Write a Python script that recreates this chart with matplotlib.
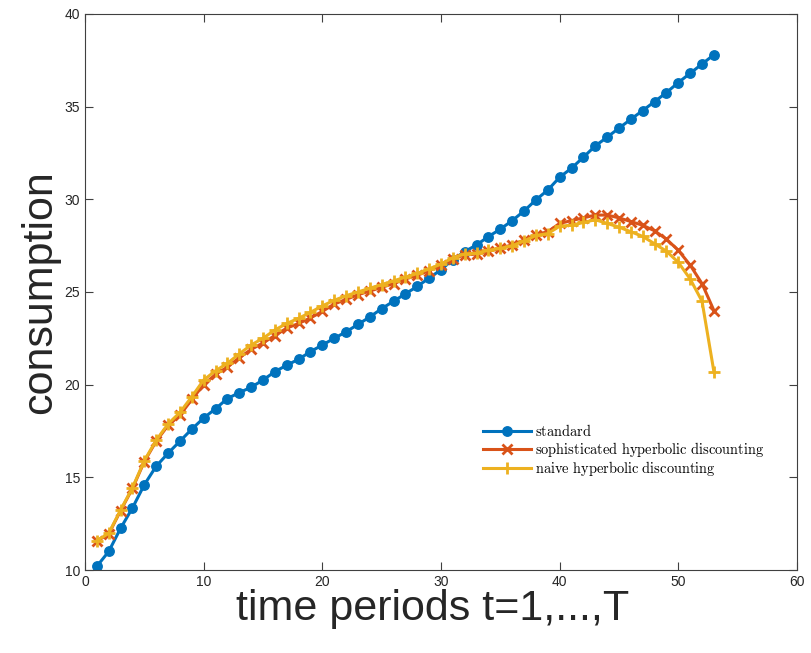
import matplotlib
matplotlib.use("Agg")
import matplotlib.pyplot as plt

# periodos e consumo de cada modelo
t = list(range(1, 54))

standard = [10.2, 11.0, 12.25, 13.35, 14.6, 15.6, 16.3, 16.95, 17.6, 18.2,
            18.7, 19.25, 19.57, 19.86, 20.25, 20.7, 21.05, 21.37, 21.78, 22.14,
            22.5, 22.85, 23.25, 23.65, 24.1, 24.5, 24.9, 25.3, 25.75, 26.2,
            26.75, 27.18, 27.54, 27.99, 28.39, 28.85, 29.37, 29.97, 30.5, 31.19,
            31.68, 32.27, 32.88, 33.35, 33.84, 34.32, 34.79, 35.27, 35.76, 36.3,
            36.8, 37.3, 37.8]

sophisticated = [11.55, 11.95, 13.2, 14.4, 15.85, 16.95, 17.8, 18.35, 19.2, 20.0,
                 20.55, 20.95, 21.45, 21.9, 22.25, 22.65, 23.05, 23.3, 23.6, 23.95,
                 24.35, 24.6, 24.85, 25.05, 25.25, 25.45, 25.7, 25.9, 26.15, 26.45,
                 26.8, 27.0, 27.05, 27.2, 27.35, 27.55, 27.8, 28.1, 28.25, 28.7,
                 28.85, 29.0, 29.15, 29.15, 29.0, 28.8, 28.6, 28.3, 27.85, 27.25,
                 26.45, 25.45, 24.0]

naive = [11.58, 11.98, 13.24, 14.44, 15.9, 17.0, 17.88, 18.5, 19.35, 20.25,
         20.75, 21.15, 21.66, 22.14, 22.5, 22.95, 23.3, 23.58, 23.9, 24.25,
         24.55, 24.8, 25.0, 25.2, 25.4, 25.6, 25.8, 26.0, 26.25, 26.5,
         26.85, 27.05, 27.1, 27.25, 27.35, 27.5, 27.75, 28.05, 28.15, 28.55,
         28.6, 28.75, 28.9, 28.7, 28.5, 28.25, 28.0, 27.6, 27.2, 26.6,
         25.7, 24.5, 20.7]

labels = [r"$\mathrm{standard}$",
          r"$\mathrm{sophisticated\ hyperbolic\ discounting}$",
          r"$\mathrm{naive\ hyperbolic\ discounting}$"]

plt.rcParams["mathtext.fontset"] = "cm"
plt.rcParams["font.family"] = ["Liberation Sans", "DejaVu Sans"]

fig = plt.figure(figsize=(8.11, 6.53), dpi=100)
ax = fig.add_axes([0.1048, 0.1271, 0.8779, 0.8515])

ax.plot(t, standard, color="#0072BD", lw=2.2, marker="o", ms=6.8, label=labels[0])
ax.plot(t, sophisticated, color="#D95319", lw=2.2, marker="x", ms=6.5, mew=2, label=labels[1])
ax.plot(t, naive, color="#EDB120", lw=2.2, marker="+", ms=8, mew=2, label=labels[2])

ax.set_xlim(0, 60)
ax.set_ylim(10, 40)
ax.set_xticks(range(0, 61, 10))
ax.set_yticks(range(10, 41, 5))
ax.tick_params(direction="in", length=6, width=0.8, colors="#404040",
               labelsize=10, top=True, right=True, labelcolor="#262626")
for s in ax.spines.values():
    s.set_color("#404040")
    s.set_linewidth(0.8)

ax.set_xlabel("time periods t=1,...,T", fontsize=31, labelpad=0, color="#262626")
ax.xaxis.label.set_x(0.488)
ax.set_ylabel("consumption", fontsize=31, labelpad=3, color="#262626")

ax.legend(loc="upper left", bbox_to_anchor=(0.541, 0.287), frameon=False,
          fontsize=10.4, handlelength=3.3, handletextpad=0.3, labelspacing=0.02)

fig.savefig("out.png", dpi=100)
